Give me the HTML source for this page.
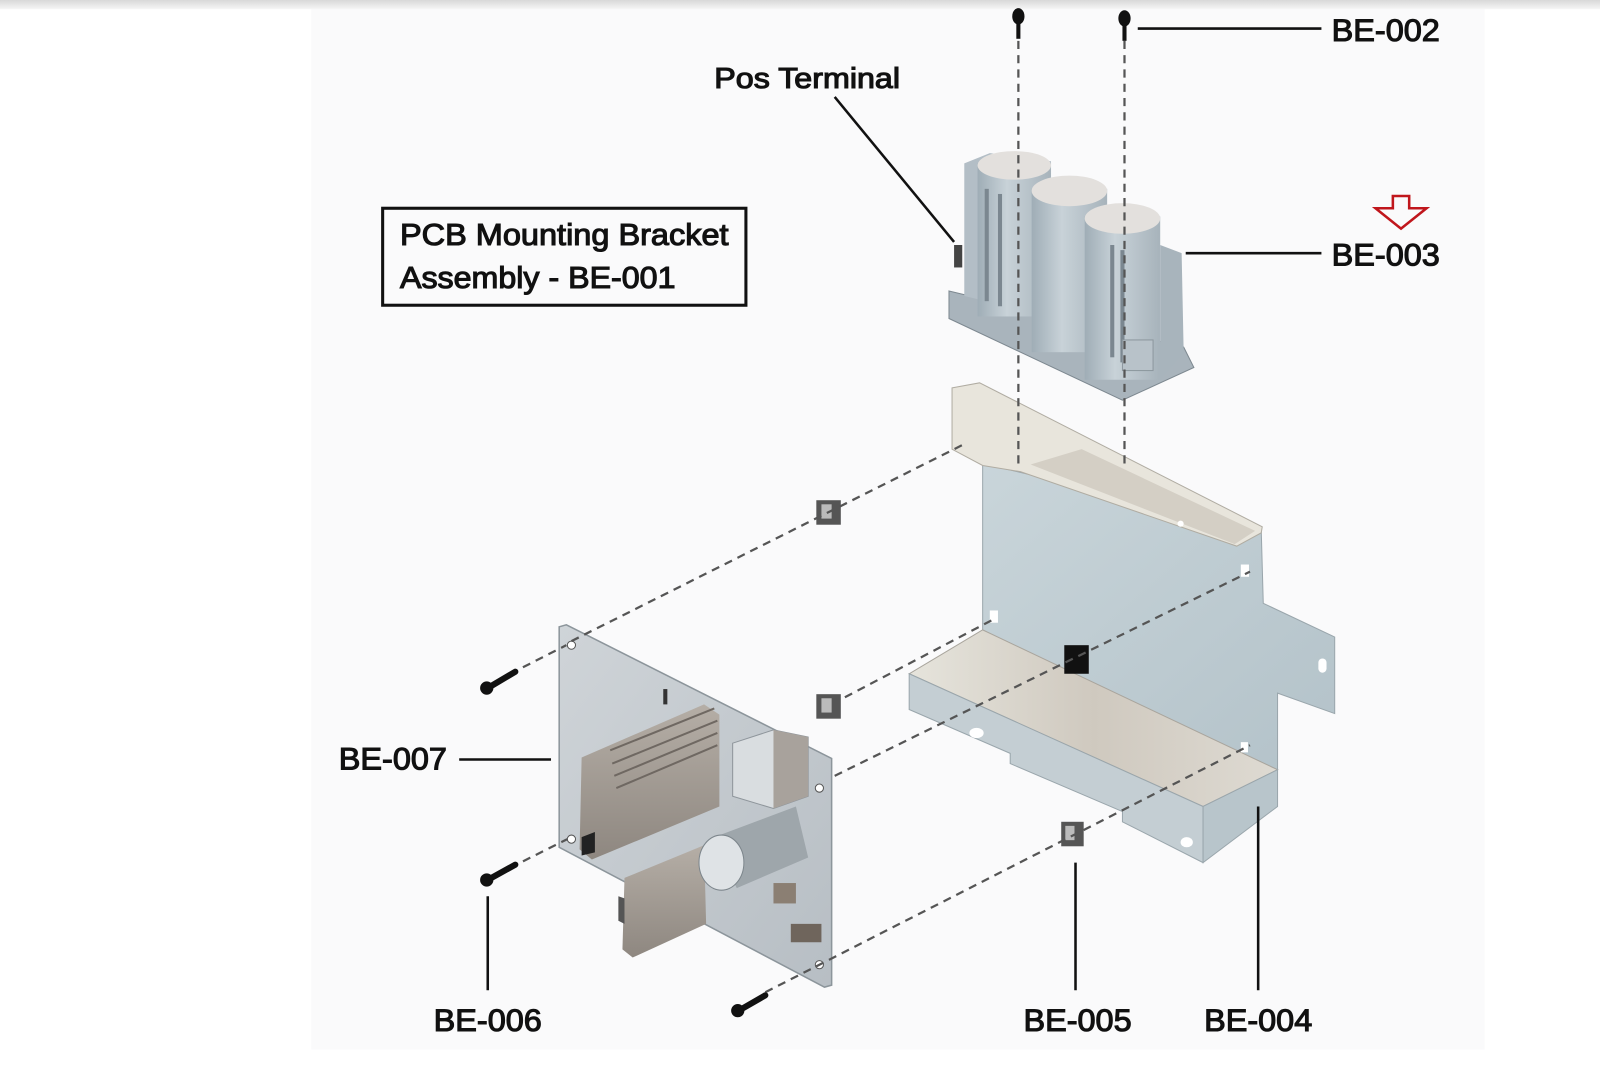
<!DOCTYPE html>
<html><head><meta charset="utf-8"><style>
html,body{margin:0;padding:0;background:#fff;}
svg{display:block}
text{font-family:"Liberation Sans",Arial,sans-serif;fill:#111;stroke:#111;stroke-width:1.1}
</style></head><body>
<svg width="1600" height="1077" viewBox="0 0 1568 1055" preserveAspectRatio="none" xmlns="http://www.w3.org/2000/svg">
<defs>
<linearGradient id="top" x1="0" y1="0" x2="0" y2="1"><stop offset="0" stop-color="#d8d8d8"/><stop offset="1" stop-color="#f6f6f6"/></linearGradient>
<linearGradient id="vf" x1="0" y1="0" x2="1" y2="1"><stop offset="0" stop-color="#c9d5da"/><stop offset="1" stop-color="#b3c2c9"/></linearGradient>
<linearGradient id="fl" x1="0" y1="0" x2="1" y2="0"><stop offset="0" stop-color="#e6e4dc"/><stop offset="0.5" stop-color="#cfc9bf"/><stop offset="1" stop-color="#dedad2"/></linearGradient>
<linearGradient id="pcb" x1="0" y1="0" x2="1" y2="1"><stop offset="0" stop-color="#cfd4d8"/><stop offset="1" stop-color="#b7bec4"/></linearGradient>
<linearGradient id="cyl" x1="0" y1="0" x2="1" y2="0"><stop offset="0" stop-color="#9fadb6"/><stop offset="0.4" stop-color="#c8d2d8"/><stop offset="1" stop-color="#a7b3bb"/></linearGradient>
<linearGradient id="hs" x1="0" y1="0" x2="0" y2="1"><stop offset="0" stop-color="#b5aea6"/><stop offset="1" stop-color="#8e8780"/></linearGradient>
</defs>
<rect x="0" y="0" width="1568" height="1055" fill="#fff"/>
<rect x="305" y="0" width="1150" height="1028" fill="#fafafb"/>
<rect x="0" y="0" width="1568" height="9" fill="url(#top)"/>

<!-- Bracket BE-004 -->
<polygon points="963,454 1236,519 1238,591 1308,624 1308,699 1252,679 1252,754 963,620" fill="url(#vf)" stroke="#9aa6ac" stroke-width="1"/>
<polygon points="933,380 960,375 1237,516 1236,522 1212,535 1000,462 963,456 933,440" fill="#e8e5dc" stroke="#b0aca2" stroke-width="1"/>
<polygon points="1010,455 1060,440 1230,520 1210,533" fill="#d4cfc5"/>
<polygon points="891,660 963,617 1252,754 1179,790" fill="url(#fl)" stroke="#a9a59d" stroke-width="1"/>
<polygon points="891,660 1179,790 1179,845 1100,805 1100,795 990,748 990,738 891,695" fill="#c4ced3" stroke="#9aa6ac" stroke-width="1"/>
<polygon points="1179,790 1252,754 1252,790 1179,845" fill="#b8c5cb" stroke="#9aa6ac" stroke-width="1"/>
<rect x="1292" y="645" width="8" height="14" rx="4" fill="#fff"/>
<rect x="1216" y="553" width="8" height="12" fill="#fff"/>
<rect x="970" y="598" width="8" height="12" fill="#fff"/>
<rect x="1216" y="727" width="7" height="10" fill="#fff"/>
<ellipse cx="957" cy="718" rx="7" ry="5" fill="#fff"/>
<ellipse cx="1163" cy="825" rx="6" ry="5" fill="#fff"/>
<circle cx="1157" cy="513" r="3" fill="#fff"/>

<!-- PCB BE-007 -->
<polygon points="548,614 555,612 815,743 815,965 808,967 548,830" fill="url(#pcb)" stroke="#8c959b" stroke-width="1.5"/>
<circle cx="560" cy="632" r="4" fill="#fff" stroke="#555"/>
<circle cx="560" cy="822" r="4" fill="#fff" stroke="#555"/>
<circle cx="803" cy="772" r="4" fill="#fff" stroke="#555"/>
<circle cx="803" cy="945" r="4" fill="#fff" stroke="#555"/>
<rect x="650" y="675" width="4" height="15" fill="#333"/>
<polygon points="570,742 690,690 705,700 705,790 580,842 568,832" fill="url(#hs)"/>
<g stroke="#6f6862" stroke-width="2"><line x1="598" y1="735" x2="700" y2="694"/><line x1="600" y1="748" x2="703" y2="706"/><line x1="602" y1="760" x2="703" y2="718"/><line x1="604" y1="772" x2="703" y2="730"/></g>
<polygon points="612,860 690,828 692,905 620,938 610,930" fill="url(#hs)"/>
<polygon points="606,878 612,880 612,905 606,902" fill="#555"/>
<polygon points="718,728 758,715 792,722 792,780 758,792 718,780" fill="#d9dde0" stroke="#8e959b"/>
<polygon points="758,715 792,722 792,780 758,792" fill="#a8a29c"/>
<polygon points="700,820 780,790 792,840 722,870" fill="#9ea6ab"/>
<ellipse cx="707" cy="845" rx="22" ry="27" fill="#dfe3e6" stroke="#7d868c"/>
<rect x="758" y="865" width="22" height="20" fill="#8b7f73"/>
<rect x="775" y="905" width="30" height="18" fill="#6f655c"/>
<polygon points="570,820 583,815 583,835 570,838" fill="#222"/>

<!-- Capacitor block BE-003 -->
<polygon points="930,285 1160,340 1170,360 1100,392 930,312" fill="#a9b4bc" stroke="#7d8890"/>
<polygon points="945,160 970,150 1030,158 1030,310 945,290" fill="#b3bec6"/>
<rect x="958" y="160" width="72" height="150" fill="url(#cyl)"/>
<ellipse cx="994" cy="162" rx="36" ry="14" fill="#e3e0dd"/>
<rect x="1011" y="185" width="74" height="160" fill="url(#cyl)"/>
<ellipse cx="1048" cy="187" rx="37" ry="15" fill="#e3e0dd"/>
<rect x="1063" y="212" width="74" height="160" fill="url(#cyl)"/>
<ellipse cx="1100" cy="214" rx="37" ry="15" fill="#e3e0dd"/>
<polygon points="1137,240 1158,248 1160,345 1137,372" fill="#a8b4bc"/>
<g fill="#7b8790"><rect x="965" y="185" width="4" height="110"/><rect x="978" y="190" width="4" height="110"/><rect x="1088" y="240" width="4" height="110"/><rect x="1098" y="245" width="4" height="110"/></g>
<rect x="935" y="240" width="8" height="22" fill="#444"/>
<rect x="1100" y="333" width="30" height="30" fill="#b8c2c9" stroke="#8c979e"/>

<!-- Connectors -->
<g fill="#555"><rect x="800" y="490" width="24" height="24"/><rect x="800" y="680" width="24" height="24"/><rect x="1040" y="805" width="22" height="24"/></g>
<g fill="#bbb"><rect x="805" y="494" width="10" height="14"/><rect x="805" y="684" width="10" height="14"/><rect x="1044" y="809" width="9" height="14"/></g>
<rect x="1043" y="632" width="24" height="28" fill="#111"/>

<!-- Dashed lines -->
<g stroke="#555" stroke-width="2.2" stroke-dasharray="8,6" fill="none">
<line x1="998" y1="40" x2="998" y2="460"/>
<line x1="1102" y1="40" x2="1102" y2="460"/>
<line x1="500" y1="660" x2="555" y2="632"/>
<line x1="560" y1="628" x2="945" y2="435"/>
<line x1="818" y1="760" x2="1225" y2="560"/>
<line x1="500" y1="850" x2="556" y2="822"/>
<line x1="828" y1="683" x2="975" y2="606"/>
<line x1="750" y1="972" x2="1225" y2="730"/>
</g>

<!-- Screws -->
<g fill="#111">
<ellipse cx="998" cy="16" rx="6" ry="8"/><rect x="996" y="20" width="4" height="18"/>
<ellipse cx="1102" cy="18" rx="6" ry="8"/><rect x="1100" y="22" width="4" height="18"/>
</g>
<g stroke="#111" stroke-linecap="round">
<line x1="478" y1="674" x2="505" y2="658" stroke-width="6"/><circle cx="477" cy="674" r="6" fill="#111"/>
<line x1="478" y1="862" x2="505" y2="847" stroke-width="6"/><circle cx="477" cy="862" r="6" fill="#111"/>
<line x1="724" y1="990" x2="750" y2="975" stroke-width="6"/><circle cx="723" cy="990" r="6" fill="#111"/>
</g>

<!-- Leaders -->
<g stroke="#111" stroke-width="2.5">
<line x1="1115" y1="28" x2="1295" y2="28"/>
<line x1="818" y1="95" x2="935" y2="237"/>
<line x1="1162" y1="248" x2="1295" y2="248"/>
<line x1="450" y1="744" x2="540" y2="744"/>
<line x1="478" y1="878" x2="478" y2="970"/>
<line x1="1054" y1="845" x2="1054" y2="970"/>
<line x1="1233" y1="790" x2="1233" y2="970"/>
</g>
<rect x="375" y="204" width="356" height="95" fill="none" stroke="#111" stroke-width="3"/>
<polygon points="1365,192 1381,192 1381,204 1398,204 1373,224 1348,204 1365,204" fill="none" stroke="#c0161c" stroke-width="2.5"/>

<text x="1305" y="40" font-size="31" textLength="106" lengthAdjust="spacingAndGlyphs">BE-002</text>
<text x="700" y="86" font-size="28" textLength="182" lengthAdjust="spacingAndGlyphs">Pos Terminal</text>
<text x="392" y="240" font-size="30" textLength="322" lengthAdjust="spacingAndGlyphs">PCB Mounting Bracket</text>
<text x="392" y="282" font-size="30" textLength="270" lengthAdjust="spacingAndGlyphs">Assembly - BE-001</text>
<text x="1305" y="260" font-size="31" textLength="106" lengthAdjust="spacingAndGlyphs">BE-003</text>
<text x="332" y="754" font-size="31" textLength="106" lengthAdjust="spacingAndGlyphs">BE-007</text>
<text x="425" y="1010" font-size="31" textLength="106" lengthAdjust="spacingAndGlyphs">BE-006</text>
<text x="1003" y="1010" font-size="31" textLength="106" lengthAdjust="spacingAndGlyphs">BE-005</text>
<text x="1180" y="1010" font-size="31" textLength="106" lengthAdjust="spacingAndGlyphs">BE-004</text>
</svg>
</body></html>
